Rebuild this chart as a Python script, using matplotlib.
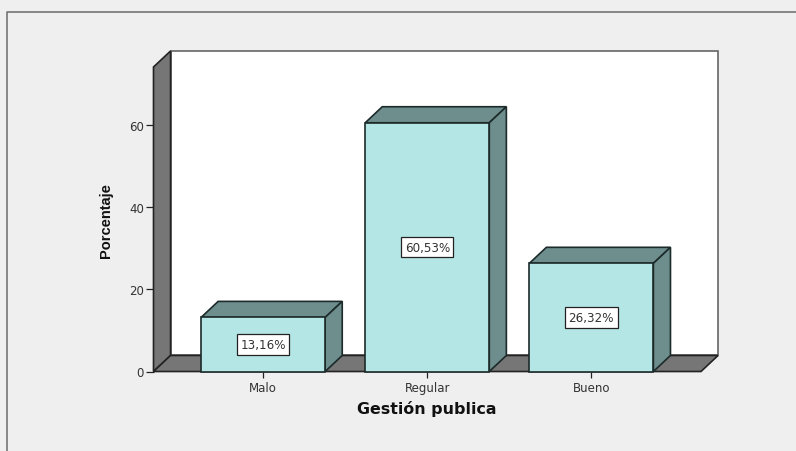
#!/usr/bin/env python3
import matplotlib.pyplot as plt
from matplotlib.patches import Polygon

categories = ["Malo", "Regular", "Bueno"]
values = [13.16, 60.53, 26.32]
labels = ["13,16%", "60,53%", "26,32%"]
yticks = [0, 20, 40, 60]

BG = "#efefef"
FACE = "#b4e6e6"
SIDE = "#6e8e8e"
WALL = "#767676"
EDGE = "#1c2a2a"

# depth of the fake 3d box, in data units
DX = 0.104
DY = 3.9
WIDTH = 0.756
W, H = 796, 452

plt.rcParams["font.family"] = ["DejaVu Sans"]

fig = plt.figure(figsize=(W / 100, H / 100), dpi=100, facecolor=BG)
ax = fig.add_axes([153.5 / W, 1 - 372.5 / H, (701 - 153.5) / W, (372.5 - 68) / H])
ax.set_xlim(-0.668, 2.668)
ax.set_ylim(0, 74.1)
ax.patch.set_visible(False)
for s in ax.spines.values():
    s.set_visible(False)


def poly(pts, fc, z, ec=EDGE, lw=1.2):
    ax.add_patch(Polygon(pts, closed=True, fc=fc, ec=ec, lw=lw, zorder=z, clip_on=False,
                         joinstyle="miter"))


x0, x1 = ax.get_xlim()
y0, y1 = ax.get_ylim()
# back wall, left wall and floor
poly([(x0 + DX, y0 + DY), (x1 + DX, y0 + DY), (x1 + DX, y1 + DY), (x0 + DX, y1 + DY)], "white", 1, ec="#666666")
poly([(x0, y0), (x0 + DX, y0 + DY), (x0 + DX, y1 + DY), (x0, y1)], WALL, 2, ec="#222222")
poly([(x0, y0), (x1, y0), (x1 + DX, y0 + DY), (x0 + DX, y0 + DY)], WALL, 2, ec="#222222")

for i, v in enumerate(values):
    l, r = i - WIDTH / 2, i + WIDTH / 2
    poly([(l, v), (r, v), (r + DX, v + DY), (l + DX, v + DY)], SIDE, 3)
    poly([(r, 0), (r + DX, DY), (r + DX, v + DY), (r, v)], SIDE, 3)
    ax.bar(i, v, WIDTH, color=FACE, edgecolor=EDGE, linewidth=1.2, zorder=4, clip_on=False)
    ax.text(i, v / 2, labels[i], ha="center", va="center", fontsize=8.6, color="#333333", zorder=5,
            bbox=dict(boxstyle="square,pad=0.3", fc="white", ec="#222222", lw=0.9))

ax.set_xticks(range(len(categories)), categories)
ax.set_yticks(yticks)
ax.tick_params(axis="x", length=4.3, width=0.9, pad=2.5, labelsize=8.5, color="#222222", labelcolor="#333333")
ax.tick_params(axis="y", length=5.8, width=0.9, pad=1, labelsize=8.5, color="#222222", labelcolor="#333333")

fig.text(427 / W, 1 - 409 / H, "Gestión publica", ha="center", va="center", fontsize=11.4,
         fontweight="bold", color="#111111")
fig.text(106 / W, 1 - 221 / H, "Porcentaje", ha="center", va="center", rotation=90, fontsize=10.5,
         fontweight="bold", color="#111111", family=["Liberation Sans"])

# outer frame, only left and top are visible in the shot
fig.add_artist(plt.Line2D([6.5 / W, 6.5 / W, 1], [0, 1 - 12.5 / H, 1 - 12.5 / H], color="#6a6a6a", lw=1.1))

fig.savefig("out.png", dpi=100, facecolor=BG)
